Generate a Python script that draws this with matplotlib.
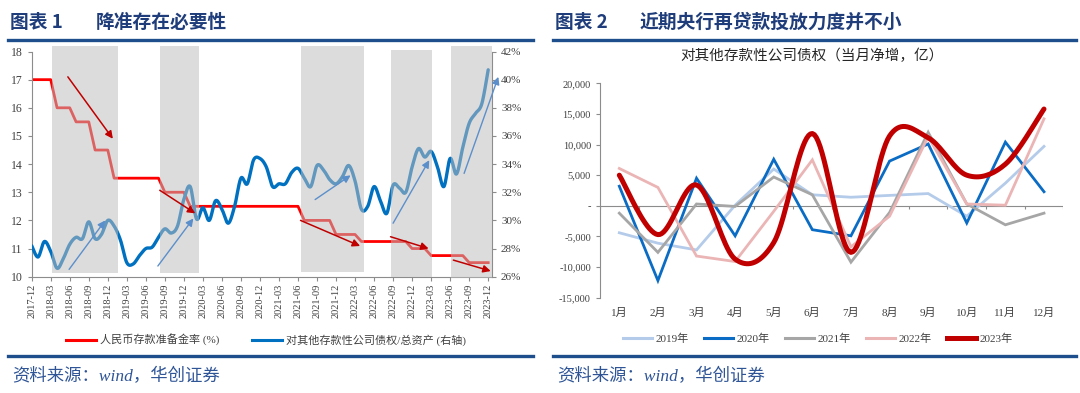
import numpy as np
import matplotlib
matplotlib.use('Agg')
import matplotlib.pyplot as plt
from matplotlib.patches import Rectangle
from matplotlib.lines import Line2D
from matplotlib.ticker import FuncFormatter

plt.rcParams['font.family'] = ['Liberation Serif', 'Noto Sans CJK SC']
plt.rcParams['axes.unicode_minus'] = False

# ---------------- 图表1 数据 ----------------
quarter_labels = ['2017-12', '2018-03', '2018-06', '2018-09', '2018-12',
                  '2019-03', '2019-06', '2019-09', '2019-12',
                  '2020-03', '2020-06', '2020-09', '2020-12',
                  '2021-03', '2021-06', '2021-09', '2021-12',
                  '2022-03', '2022-06', '2022-09', '2022-12',
                  '2023-03', '2023-06', '2023-09', '2023-12']

# 准备金率调整 (月序号, 0 = 2017-12)
rrr_cut_month = [0, 4, 7, 10, 13, 21, 25, 43, 48, 52, 60, 63, 69]
rrr_level = [17, 16, 15.5, 14.5, 13.5, 13, 12.5, 12, 11.5, 11.25, 11, 10.75, 10.5]

# 对其他存款性公司债权/总资产 (%), 月度 2017-12 ~ 2023-12
claim_ratio = [28.2, 27.4, 28.5, 27.8, 26.6, 27.3, 28.3, 28.8, 28.7, 29.9,
               28.7, 29.0, 30.0, 29.6, 28.6, 27.0, 26.9, 27.5, 28.0, 28.1,
               28.8, 29.4, 29.1, 29.6, 31.5, 32.4, 30.1, 30.9, 30.0, 31.4,
               30.8, 29.8, 31.0, 33.0, 32.6, 34.3, 34.4, 33.8, 32.4, 32.6,
               32.6, 33.4, 33.7, 33.0, 32.4, 33.9, 33.6, 32.9, 32.6, 33.1,
               33.9, 32.8, 30.8, 31.0, 32.4, 31.4, 30.5, 32.5, 32.3, 32.0,
               33.8, 35.1, 34.5, 34.9, 33.8, 32.4, 34.4, 33.3, 35.2, 36.9,
               37.6, 38.3, 40.7]

# 阴影区间 (月序号)
shade_start = [3.2, 20.3, 42.5, 56.6, 66.1]
shade_end = [13.6, 26.4, 52.4, 63.2, 72.6]
shade_top = [18.19, 18.19, 18.18, 18.06, 18.18]
shade_bottom = [10.12, 10.14, 10.18, 10.0, 9.96]

# 趋势箭头 (月序号, 左轴数值)
red_arrows = [((5.7, 17.1), (12.8, 14.9)),
              ((20.2, 13.07), (25.8, 12.25)),
              ((42.4, 12.0), (51.8, 11.09)),
              ((56.6, 11.42), (62.6, 11.0)),
              ((66.5, 10.59), (72.4, 10.2))]
blue_arrows = [((5.9, 10.26), (11.6, 12.0)),
               ((19.9, 10.38), (25.5, 12.07)),
               ((44.7, 12.74), (50.3, 13.6)),
               ((57.0, 11.9), (62.7, 14.14)),
               ((68.2, 13.67), (73.6, 17.1))]

# ---------------- 图表2 数据 ----------------
months = ['1月', '2月', '3月', '4月', '5月', '6月',
          '7月', '8月', '9月', '10月', '11月', '12月']
y2019 = [-4400, -6100, -7200, 100, 6000, 1800, 1400, 1700, 2000, -1700, 3700, 9700]
y2020 = [3200, -12200, 4500, -4900, 7600, -3900, -4900, 7300, 10100, -2800, 10400, 2300]
y2021 = [-1200, -7600, 300, -100, 4700, 1800, -9200, -1100, 12000, 300, -3100, -1200]
y2022 = [6100, 3000, -8200, -9100, -900, 7500, -6700, -1700, 11300, 300, 100, 14200]
y2023 = [5000, -4700, 3400, -8700, -6000, 11800, -7600, 11400, 11100, 5000, 6800, 15800]
years = ['2019年', '2020年', '2021年', '2022年', '2023年']


def excel_smooth(x, y, steps=20):
    # 类似 Excel 平滑线的三次贝塞尔插值
    x = np.asarray(x, float)
    y = np.asarray(y, float)
    n = len(x)
    xs, ys = [], []
    for i in range(n - 1):
        i0 = max(i - 1, 0)
        i3 = min(i + 2, n - 1)
        c1x = x[i] + (x[i + 1] - x[i0]) / 6
        c1y = y[i] + (y[i + 1] - y[i0]) / 6
        c2x = x[i + 1] - (x[i3] - x[i]) / 6
        c2y = y[i + 1] - (y[i3] - y[i]) / 6
        t = np.linspace(0, 1, steps, endpoint=(i == n - 2))
        a = (1 - t) ** 3
        b = 3 * (1 - t) ** 2 * t
        c = 3 * (1 - t) * t ** 2
        d = t ** 3
        xs.append(a * x[i] + b * c1x + c * c2x + d * x[i + 1])
        ys.append(a * y[i] + b * c1y + c * c2y + d * y[i + 1])
    return np.concatenate(xs), np.concatenate(ys)


W, H = 1080, 393
fig = plt.figure(figsize=(W / 100, H / 100), dpi=100)
navy = '#1F4E8C'
head_color = '#1F3D7A'
tick_color = '#404040'
axis_gray = '#8C8C8C'


def fx(px):
    return px / W


def fy(py):
    return 1 - py / H


# 标题与分隔线
for x0, x1 in [(8, 533), (553, 1076)]:
    fig.add_artist(Line2D([fx(x0), fx(x1)], [fy(40), fy(40)], color=navy, lw=2.4))
    fig.add_artist(Line2D([fx(x0), fx(x1)], [fy(356), fy(356)], color=navy, lw=2.4))
    fig.text(fx(x0 + 4), fy(377), '资料来源：wind，华创证券', fontsize=12.5,
             color='#2F5597', style='italic', va='center')

fig.text(fx(10), fy(22), '图表 1', fontsize=13.5, weight='bold', color=head_color, va='center',
         family=['Noto Sans CJK SC'])
fig.text(fx(96), fy(22), '降准存在必要性', fontsize=13.5, weight='bold', color=head_color,
         va='center', family=['Noto Sans CJK SC'])
fig.text(fx(555), fy(22), '图表 2', fontsize=13.5, weight='bold', color=head_color, va='center',
         family=['Noto Sans CJK SC'])
fig.text(fx(640), fy(22), '近期央行再贷款投放力度并不小', fontsize=13.5, weight='bold',
         color=head_color, va='center', family=['Noto Sans CJK SC'])

# ---------------- 图表1 ----------------
n_months = len(claim_ratio)
month_idx = np.arange(n_months)
rrr = np.zeros(n_months)
for start, lvl in zip(rrr_cut_month, rrr_level):
    rrr[start:] = lvl

ax1 = fig.add_axes([fx(31.7), fy(276.7), fx(492 - 31.7), (276.7 - 51.5) / H])
ax1.plot(month_idx, rrr, color='#FF0000', lw=2.0, solid_joinstyle='round')
ax1.set_xlim(0, 72.6)
ax1.set_ylim(10, 18)
ax1.set_yticks(range(10, 19))
ax1.set_xticks(range(0, n_months, 3))
ax1.set_xticklabels(quarter_labels, rotation=90, fontsize=7.5, color=tick_color)
ax1.tick_params(axis='y', labelsize=8.5, labelcolor=tick_color, length=3, color=axis_gray)
ax1.tick_params(axis='x', length=3, color=axis_gray, pad=2)
for s in ['left', 'bottom']:
    ax1.spines[s].set_color(axis_gray)
ax1.spines['top'].set_visible(False)
ax1.spines['right'].set_visible(False)

ax2 = ax1.twinx()
sx, sy = excel_smooth(month_idx, claim_ratio)
ax2.plot(sx, sy, color='#0070C0', lw=2.4, solid_capstyle='round')
ax2.set_ylim(26, 42)
ax2.set_yticks(range(26, 43, 2))
ax2.set_yticklabels([f'{v}%' for v in range(26, 43, 2)])
ax2.tick_params(axis='y', labelsize=8, labelcolor=tick_color, length=3, color=axis_gray)
ax2.spines['right'].set_color(axis_gray)
ax2.spines['top'].set_visible(False)
ax2.spines['left'].set_visible(False)
ax2.spines['bottom'].set_visible(False)

for a, b, t, btm in zip(shade_start, shade_end, shade_top, shade_bottom):
    ax2.add_patch(Rectangle((a, btm), b - a, t - btm, transform=ax1.transData,
                            facecolor='#BDBDBD', alpha=0.52, edgecolor='none',
                            clip_on=False, zorder=5))

for (p0, p1) in red_arrows:
    ax2.annotate('', xy=p1, xytext=p0, xycoords=ax1.transData, textcoords=ax1.transData,
                 annotation_clip=False, zorder=6,
                 arrowprops=dict(arrowstyle='-|>', color='#C00000', lw=1.1,
                                 mutation_scale=11, shrinkA=0, shrinkB=0))
for (p0, p1) in blue_arrows:
    ax2.annotate('', xy=p1, xytext=p0, xycoords=ax1.transData, textcoords=ax1.transData,
                 annotation_clip=False, zorder=6,
                 arrowprops=dict(arrowstyle='-|>', color='#5B8FCB', lw=1.0,
                                 mutation_scale=11, shrinkA=0, shrinkB=0))

h1 = [Line2D([], [], color='#FF0000', lw=2.2), Line2D([], [], color='#0070C0', lw=2.2)]
fig.legend(h1, ['人民币存款准备金率 (%)', '对其他存款性公司债权/总资产 (右轴)'],
           loc='center', bbox_to_anchor=(fx(266), fy(340)), ncol=2, frameon=False,
           fontsize=8, handlelength=2.7, handletextpad=0.3, columnspacing=3.0,
           labelcolor=tick_color)

# ---------------- 图表2 ----------------
ax3 = fig.add_axes([fx(600), fy(297.7), fx(1063.3 - 600), (297.7 - 83.3) / H])
mx = np.arange(1, len(months) + 1)
series = [y2019, y2020, y2021, y2022]
colors = ['#B4CBE9', '#0A6CC4', '#A6A6A6', '#EBB5B5']
for vals, c in zip(series, colors):
    ax3.plot(mx, vals, color=c, lw=2.0, solid_joinstyle='miter')
rx, ry = excel_smooth(mx, y2023)
ax3.plot(rx, ry, color='#C00000', lw=3.6, solid_capstyle='round')
ax3.axhline(0, color=axis_gray, lw=0.8, zorder=0)
ax3.vlines(np.arange(0.5, len(months) + 1, 1.0), -450, 0, color=axis_gray, lw=0.8, zorder=0)
ax3.set_xlim(0.5, 12.5)
ax3.set_ylim(-15000, 20000)
ax3.set_yticks(range(-15000, 20001, 5000))
ax3.yaxis.set_major_formatter(FuncFormatter(lambda v, p: '-' if v == 0 else f'{v:,.0f}'))
ax3.set_xticks(mx)
ax3.set_xticklabels(months, fontsize=8, color=tick_color)
ax3.tick_params(axis='x', length=0, pad=7)
ax3.tick_params(axis='y', labelsize=7.5, labelcolor=tick_color, length=3, color=axis_gray)
for s in ['top', 'right', 'bottom']:
    ax3.spines[s].set_visible(False)
ax3.spines['left'].set_color(axis_gray)

fig.text(fx(812), fy(56), '对其他存款性公司债权（当月净增，亿）', fontsize=10.5,
         ha='center', va='center', color='#262626')

h2 = [Line2D([], [], color=c, lw=2.2) for c in colors] + [Line2D([], [], color='#C00000', lw=3.6)]
fig.legend(h2, years, loc='center', bbox_to_anchor=(fx(818), fy(339)), ncol=5, frameon=False,
           fontsize=8, handlelength=2.6, handletextpad=0.3, columnspacing=1.4,
           labelcolor=tick_color)

fig.savefig('out.png', dpi=100)
